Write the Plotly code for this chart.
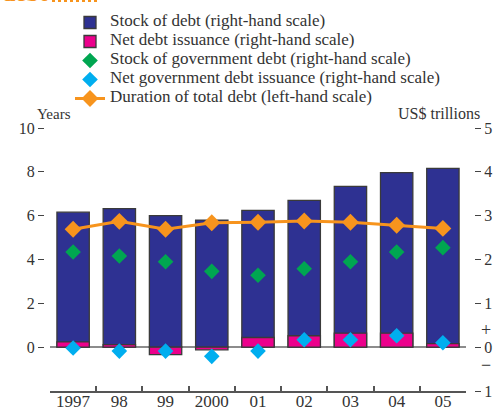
import plotly.graph_objects as go

# Data (US$ trillions unless noted)
years = ["1997", "98", "99", "2000", "01", "02", "03", "04", "05"]
stock_of_debt = [3.08, 3.16, 3.00, 2.90, 3.12, 3.35, 3.67, 3.98, 4.08]
net_debt_issuance = [0.12, 0.06, -0.17, -0.06, 0.22, 0.26, 0.32, 0.32, 0.08]
stock_gov_debt = [2.17, 2.08, 1.95, 1.73, 1.64, 1.79, 1.95, 2.17, 2.27]
net_gov_debt_issuance = [-0.02, -0.09, -0.09, -0.21, -0.09, 0.17, 0.17, 0.26, 0.10]
duration_years = [5.38, 5.74, 5.38, 5.68, 5.70, 5.76, 5.70, 5.56, 5.42]

right_ticks = [-1, 0, 1, 2, 3, 4, 5]
right_tick_text = ["1", "0", "1", "2", "3", "4", "5"]
left_ticks = [0, 2, 4, 6, 8, 10]

NAVY = "#2E3192"
PINK = "#EC008C"
GREEN = "#00A651"
CYAN = "#00AEEF"
ORANGE = "#F7941D"
OUTLINE = "#3a3a3a"
FONT = "Liberation Serif"

W, H = 497, 410
L, R = 40, 480          # margins (px) -> plotting width
T, B = 128, 19
plot_w = R - L
plot_h = H - T - B
x0_px, x1_px = 50, 466   # category axis extent


def lg(s):
    return "<span style='font-size:17px'>" + s + "</span>"


def py(px):
    """paper y coordinate for a pixel row measured from the top"""
    return 1 - (px - T) / plot_h


fig = go.Figure()

fig.add_trace(go.Bar(
    x=years, y=stock_of_debt, yaxis="y",
    name=lg("Stock of debt (right-hand scale)"),
    marker=dict(color=NAVY, line=dict(color=OUTLINE, width=1.3)),
))
fig.add_trace(go.Bar(
    x=years, y=net_debt_issuance, yaxis="y",
    name=lg("Net debt issuance (right-hand scale)"),
    marker=dict(color=PINK, line=dict(color=OUTLINE, width=1.3)),
))
fig.add_trace(go.Scatter(
    x=years, y=stock_gov_debt, yaxis="y", mode="markers",
    name=lg("Stock of government debt (right-hand scale)"),
    marker=dict(symbol="diamond", size=12, color=GREEN),
))
fig.add_trace(go.Scatter(
    x=years, y=net_gov_debt_issuance, yaxis="y", mode="markers",
    name=lg("Net government debt issuance (right-hand scale)"),
    marker=dict(symbol="diamond", size=12, color=CYAN),
))
fig.add_trace(go.Scatter(
    x=years, y=duration_years, yaxis="y2", mode="lines+markers",
    name=lg("Duration of total debt (left-hand scale)"),
    line=dict(color=ORANGE, width=3),
    marker=dict(symbol="diamond", size=13, color=ORANGE),
))

fig.update_layout(
    width=W, height=H,
    margin=dict(l=L, r=W - R, t=T, b=B, autoexpand=False),
    paper_bgcolor="white", plot_bgcolor="white",
    font=dict(family=FONT, size=15, color="#333333"),
    barmode="overlay", bargap=0.3,
    showlegend=True,
    legend=dict(
        xref="container", yref="container",
        x=70 / W, y=1 - 8 / H, xanchor="left", yanchor="top",
        font=dict(family=FONT, size=10, color="#333333"),
        bgcolor="rgba(0,0,0,0)", traceorder="normal",
        itemwidth=30,
    ),
    xaxis=dict(
        type="category", range=[-0.5, len(years) - 0.5],
        domain=[(x0_px - L) / plot_w, (x1_px - L) / plot_w],
        showline=True, linecolor="#555555", linewidth=1.5,
        ticks="inside", tickson="boundaries", ticklen=5,
        tickcolor="#555555", tickwidth=1.5,
        tickfont=dict(family=FONT, size=17, color="#333333"),
        ticklabelstandoff=-6,
        showgrid=False, zeroline=False, automargin=False,
        anchor="y",
    ),
    # right-hand scale (US$ trillions)
    yaxis=dict(
        range=[-1, 5], side="right", anchor="free",
        position=(474 - L) / plot_w,
        tickvals=right_ticks, ticktext=right_tick_text,
        ticks="outside", ticklen=6, tickcolor="#444444", tickwidth=1.2,
        tickfont=dict(family=FONT, size=16, color="#333333"),
        showline=False, showgrid=False,
        zeroline=True, zerolinecolor="#8c8c8c", zerolinewidth=1.6,
        automargin=False,
    ),
    # left-hand scale (years)
    yaxis2=dict(
        range=[-2, 10], side="left", overlaying="y", anchor="free",
        position=(44 - L) / plot_w,
        tickvals=left_ticks,
        ticks="outside", ticklen=6, tickcolor="#444444", tickwidth=1.2,
        tickfont=dict(family=FONT, size=16, color="#333333"),
        showline=False, showgrid=False, zeroline=False,
        automargin=False,
    ),
    annotations=[
        dict(text="Years", xref="paper", yref="paper", x=(35 - L) / plot_w,
             y=py(124), xanchor="left", yanchor="bottom", showarrow=False,
             font=dict(family=FONT, size=15, color="#333333")),
        dict(text="US$ trillions", xref="paper", yref="paper", x=(482 - L) / plot_w,
             y=py(124), xanchor="right", yanchor="bottom", showarrow=False,
             font=dict(family=FONT, size=16, color="#333333")),
        dict(text="+", xref="paper", yref="y", x=(486 - L) / plot_w, y=0.39,
             xanchor="center", yanchor="middle", showarrow=False,
             font=dict(family=FONT, size=18, color="#333333")),
        dict(text="\u2212", xref="paper", yref="y", x=(486 - L) / plot_w, y=-0.40,
             xanchor="center", yanchor="middle", showarrow=False,
             font=dict(family=FONT, size=18, color="#333333")),
        dict(text="<b>debt</b>", xref="paper", yref="paper", x=(0 - L) / plot_w,
             y=py(8), xanchor="left", yanchor="bottom",
             showarrow=False, font=dict(family=FONT, size=24, color=ORANGE)),
    ],
    shapes=[
        dict(type="line", xref="paper", yref="paper",
             x0=(52 - L) / plot_w, x1=(100 - L) / plot_w,
             y0=py(1), y1=py(1),
             line=dict(color=ORANGE, width=2, dash="dot")),
    ],
)

fig.write_html("out.html")
